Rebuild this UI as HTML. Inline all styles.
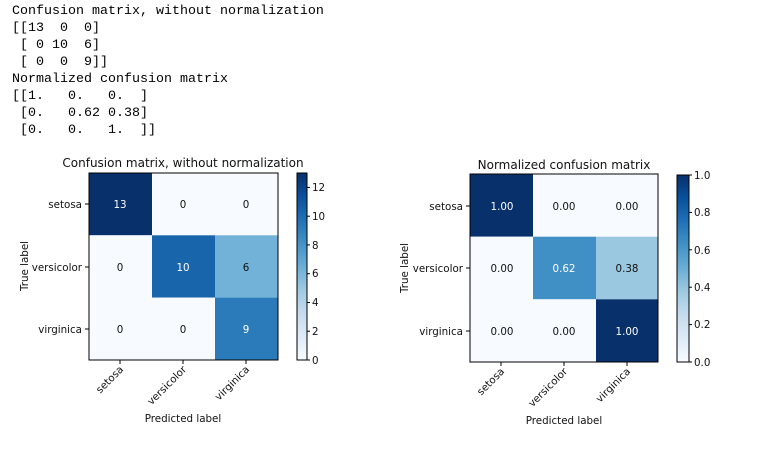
<!DOCTYPE html>
<html><head><style>
html,body{margin:0;padding:0;background:#fff;width:768px;height:450px;overflow:hidden}
pre{position:absolute;left:12px;top:3px;margin:0;font-family:"Liberation Mono",monospace;font-size:13.33px;line-height:17px;color:#000}
svg{position:absolute;left:0;top:0}
text{font-family:"DejaVu Sans",sans-serif;font-size:10.3px;fill:#111}
</style></head><body>
<pre>Confusion matrix, without normalization
[[13  0  0]
 [ 0 10  6]
 [ 0  0  9]]
Normalized confusion matrix
[[1.   0.   0.  ]
 [0.   0.62 0.38]
 [0.   0.   1.  ]]</pre>
<svg width="768" height="450" viewBox="0 0 768 450">
<defs>
<linearGradient id="bl" x1="0" y1="1" x2="0" y2="0">
<stop offset="0" stop-color="#f7fbff"/><stop offset="0.125" stop-color="#deebf7"/><stop offset="0.25" stop-color="#c6dbef"/><stop offset="0.375" stop-color="#9ecae1"/><stop offset="0.5" stop-color="#6baed6"/><stop offset="0.625" stop-color="#4292c6"/><stop offset="0.75" stop-color="#2171b5"/><stop offset="0.875" stop-color="#08519c"/><stop offset="1" stop-color="#08306b"/>
</linearGradient>
</defs>
<!-- left -->
<g>
<text x="183" y="167" text-anchor="middle" style="font-size:12px">Confusion matrix, without normalization</text>
<rect x="89" y="173" width="63" height="62.3" fill="#08306b"/>
<rect x="152" y="173" width="63" height="62.3" fill="#f7fbff"/>
<rect x="215" y="173" width="63" height="62.3" fill="#f7fbff"/>
<rect x="89" y="235.3" width="63" height="62.3" fill="#f7fbff"/>
<rect x="152" y="235.3" width="63" height="62.3" fill="#1865ac"/>
<rect x="215" y="235.3" width="63" height="62.3" fill="#72b2d8"/>
<rect x="89" y="297.6" width="63" height="62.4" fill="#f7fbff"/>
<rect x="152" y="297.6" width="63" height="62.4" fill="#f7fbff"/>
<rect x="215" y="297.6" width="63" height="62.4" fill="#2b7bba"/>
<rect x="89" y="173" width="189" height="187" fill="none" stroke="#000" stroke-width="1"/>
<g text-anchor="middle">
<text x="120" y="208" style="fill:#fff">13</text><text x="183" y="208">0</text><text x="246" y="208">0</text>
<text x="120" y="271">0</text><text x="183" y="271" style="fill:#fff">10</text><text x="246" y="271">6</text>
<text x="120" y="333">0</text><text x="183" y="333">0</text><text x="246" y="333" style="fill:#fff">9</text>
</g>
<g stroke="#000"><line x1="85" x2="89" y1="204" y2="204"/><line x1="85" x2="89" y1="267" y2="267"/><line x1="85" x2="89" y1="329" y2="329"/>
<line x1="120" x2="120" y1="360" y2="364"/><line x1="183" x2="183" y1="360" y2="364"/><line x1="246" x2="246" y1="360" y2="364"/></g>
<g text-anchor="end"><text x="82" y="208">setosa</text><text x="82" y="271">versicolor</text><text x="82" y="333">virginica</text></g>
<text transform="translate(124,370) rotate(-45)" text-anchor="end">setosa</text>
<text transform="translate(187,370) rotate(-45)" text-anchor="end">versicolor</text>
<text transform="translate(250,370) rotate(-45)" text-anchor="end">virginica</text>
<text x="183" y="422" text-anchor="middle">Predicted label</text>
<text transform="translate(28,266) rotate(-90)" text-anchor="middle">True label</text>
<rect x="297" y="173" width="10" height="187" fill="url(#bl)" stroke="#000" stroke-width="1"/>
<g stroke="#000">
<line x1="307" x2="310" y1="360" y2="360"/><line x1="307" x2="310" y1="331.2" y2="331.2"/><line x1="307" x2="310" y1="302.5" y2="302.5"/><line x1="307" x2="310" y1="273.7" y2="273.7"/><line x1="307" x2="310" y1="244.9" y2="244.9"/><line x1="307" x2="310" y1="216.2" y2="216.2"/><line x1="307" x2="310" y1="187.4" y2="187.4"/></g>
<text x="312" y="364">0</text><text x="312" y="335">2</text><text x="312" y="306">4</text><text x="312" y="277">6</text><text x="312" y="249">8</text><text x="312" y="220">10</text><text x="312" y="191">12</text>
</g>
<!-- right -->
<g>
<text x="564" y="169" text-anchor="middle" style="font-size:12px">Normalized confusion matrix</text>
<rect x="470" y="174" width="63" height="62.7" fill="#08306b"/>
<rect x="533" y="174" width="63" height="62.7" fill="#f7fbff"/>
<rect x="596" y="174" width="62" height="62.7" fill="#f7fbff"/>
<rect x="470" y="236.7" width="63" height="62.6" fill="#f7fbff"/>
<rect x="533" y="236.7" width="63" height="62.6" fill="#4090c5"/>
<rect x="596" y="236.7" width="62" height="62.6" fill="#9ac8e0"/>
<rect x="470" y="299.3" width="63" height="62.7" fill="#f7fbff"/>
<rect x="533" y="299.3" width="63" height="62.7" fill="#f7fbff"/>
<rect x="596" y="299.3" width="62" height="62.7" fill="#08306b"/>
<rect x="470" y="174" width="188" height="188" fill="none" stroke="#000" stroke-width="1"/>
<g text-anchor="middle">
<text x="502" y="210" style="fill:#fff">1.00</text><text x="564" y="210">0.00</text><text x="627" y="210">0.00</text>
<text x="502" y="272">0.00</text><text x="564" y="272" style="fill:#fff">0.62</text><text x="627" y="272">0.38</text>
<text x="502" y="335">0.00</text><text x="564" y="335">0.00</text><text x="627" y="335" style="fill:#fff">1.00</text>
</g>
<g stroke="#000"><line x1="466" x2="470" y1="206" y2="206"/><line x1="466" x2="470" y1="268" y2="268"/><line x1="466" x2="470" y1="331" y2="331"/>
<line x1="501" x2="501" y1="362" y2="366"/><line x1="564" x2="564" y1="362" y2="366"/><line x1="627" x2="627" y1="362" y2="366"/></g>
<g text-anchor="end"><text x="463" y="210">setosa</text><text x="463" y="272">versicolor</text><text x="463" y="335">virginica</text></g>
<text transform="translate(505,372) rotate(-45)" text-anchor="end">setosa</text>
<text transform="translate(568,372) rotate(-45)" text-anchor="end">versicolor</text>
<text transform="translate(631,372) rotate(-45)" text-anchor="end">virginica</text>
<text x="564" y="424" text-anchor="middle">Predicted label</text>
<text transform="translate(408,268) rotate(-90)" text-anchor="middle">True label</text>
<rect x="677" y="175" width="12" height="187" fill="url(#bl)" stroke="#000" stroke-width="1"/>
<g stroke="#000">
<line x1="689" x2="692" y1="362" y2="362"/><line x1="689" x2="692" y1="324.6" y2="324.6"/><line x1="689" x2="692" y1="287.2" y2="287.2"/><line x1="689" x2="692" y1="249.8" y2="249.8"/><line x1="689" x2="692" y1="212.4" y2="212.4"/><line x1="689" x2="692" y1="175" y2="175"/></g>
<text x="694" y="366">0.0</text><text x="694" y="328">0.2</text><text x="694" y="291">0.4</text><text x="694" y="254">0.6</text><text x="694" y="216">0.8</text><text x="694" y="179">1.0</text>
</g>
</svg>
</body></html>
